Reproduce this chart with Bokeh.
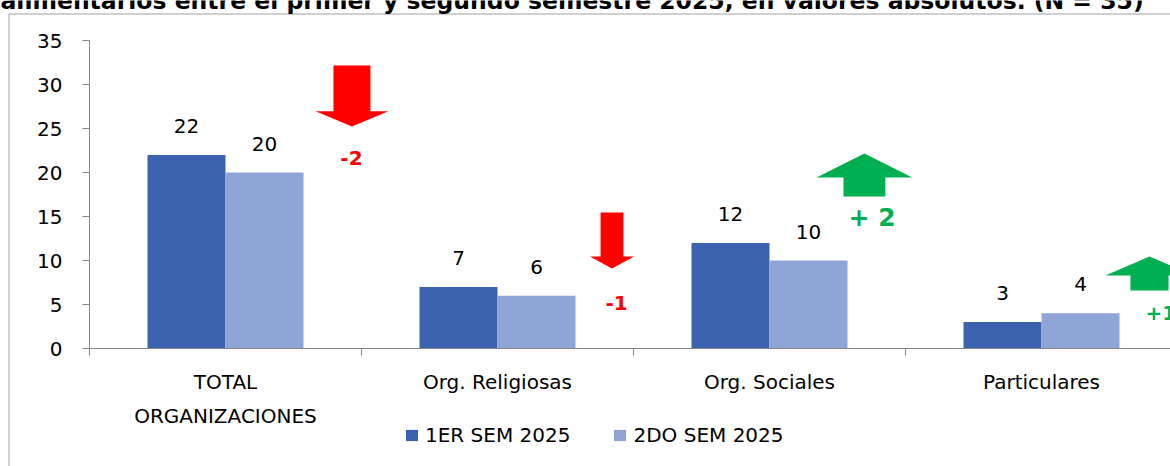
from bokeh.plotting import figure
from bokeh.models import FixedTicker, Legend, LegendItem, ColumnDataSource
from bokeh.core.properties import value
from bokeh.transform import dodge
from bokeh.embed import file_html
from bokeh.resources import INLINE

# ---------------- data ----------------
title_text = "alimentarios entre el primer y segundo semestre 2025, en valores absolutos. (N = 35)"
categories = ["TOTAL\nORGANIZACIONES", "Org. Religiosas", "Org. Sociales", "Particulares"]
sem1 = [22, 7, 12, 3]
sem2 = [20, 6, 10, 4]
series_names = ["1ER SEM 2025", "2DO SEM 2025"]
change_labels = ["-2", "-1", "+ 2", "+1"]
change_up = [False, False, True, True]
y_ticks = [0, 5, 10, 15, 20, 25, 30, 35]

# ---------------- styles / layout constants ----------------
DARK = "#3B63AD"
LIGHT = "#8FA5D5"
RED = "#FF0000"
GREEN = "#00B050"
AXIS = "#868686"
BORDER = "#A0A0A0"
FONT = "DejaVu Sans"

W, H = 1170, 466
CAT_PX = 272.0      # pixels per category slot
CAT0_PX = 225.0     # pixel x of first category centre
UNIT_PX = 8.8       # pixels per value unit
ZERO_PX = 348.0     # pixel y of value 0


def px_x(px):
    return (px - CAT0_PX) / CAT_PX


def px_y(py):
    return (ZERO_PX - py) / UNIT_PX


idx = list(range(len(categories)))

p = figure(width=W, height=H, output_backend="svg", toolbar_location=None,
           x_range=(px_x(0), px_x(W)), y_range=(px_y(H), px_y(0)), min_border=0)
p.outline_line_color = None
p.xgrid.visible = False
p.ygrid.visible = False

# ---------------- outer box and cut-off title ----------------
p.line(x=[px_x(8.5), px_x(8.5), px_x(W + 5)], y=[px_y(H + 5), px_y(13.5), px_y(13.5)],
       line_color=BORDER, line_width=1)
p.text(x=[px_x(0)], y=[px_y(0)], text=[title_text], text_font=value(FONT),
       text_font_style="bold", text_font_size="23.5px", text_baseline="alphabetic",
       text_align="left", text_color="black")

# ---------------- bars ----------------
src = ColumnDataSource(dict(x=idx, s1=sem1, s2=sem2,
                            t1=[str(v) for v in sem1], t2=[str(v) for v in sem2]))

BW = 78.0 / CAT_PX
r1 = p.vbar(x=dodge("x", -BW / 2, range=p.x_range), top="s1", width=BW, bottom=0,
            source=src, fill_color=DARK, line_color=None)
r2 = p.vbar(x=dodge("x", BW / 2, range=p.x_range), top="s2", width=BW, bottom=0,
            source=src, fill_color=LIGHT, line_color=None)

p.text(x=dodge("x", -BW / 2, range=p.x_range), y="s1", text="t1", source=src,
       text_font=value(FONT), text_font_size="20px", text_align="center",
       text_baseline="alphabetic", y_offset=-29, text_color="black")
p.text(x=dodge("x", BW / 2, range=p.x_range), y="s2", text="t2", source=src,
       text_font=value(FONT), text_font_size="20px", text_align="center",
       text_baseline="alphabetic", y_offset=-29, text_color="black")

# ---------------- change arrows (annotation placement) ----------------
# (x offset from category centre, tail y, head-base y, tip y, shaft half-width, head half-width)
arrow_geom = [
    (0.465, 32.16, 26.95, 25.23, 0.068, 0.134),
    (0.421, 15.45, 10.45, 9.09, 0.042, 0.081),
    (0.349, 17.27, 19.43, 22.16, 0.077, 0.176),
    (0.397, 6.59, 8.30, 10.45, 0.070, 0.162),
]
xs, ys, cols = [], [], []
for i, (dx, yt, yb, ytip, sw, hw) in enumerate(arrow_geom):
    xc = idx[i] + dx
    xs.append([xc - sw, xc + sw, xc + sw, xc + hw, xc, xc - hw, xc - sw])
    ys.append([yt, yt, yb, yb, ytip, yb, yb])
    cols.append(GREEN if change_up[i] else RED)
p.patches(xs=xs, ys=ys, fill_color=cols, line_color=None)

# change labels: (x offset, y, size, align)
lab_geom = [(0.463, 21.6, "20px", "center"), (0.4375, 5.2, "20px", "center"),
            (0.377, 14.85, "25px", "center"), (0.382, 4.05, "20px", "left")]
for i, (dx, y, fs, al) in enumerate(lab_geom):
    p.text(x=[idx[i] + dx], y=[y], text=[change_labels[i]],
           text_font=value(FONT), text_font_style="bold", text_font_size=fs,
           text_align=al, text_baseline="middle",
           text_color=GREEN if change_up[i] else RED)

# ---------------- axes (fixed inside the frame) ----------------
yax = p.yaxis[0]
yax.fixed_location = -0.5
yax.bounds = (0, 35)
yax.ticker = FixedTicker(ticks=y_ticks)
yax.axis_line_color = AXIS
yax.major_tick_line_color = AXIS
yax.major_tick_out = 7
yax.major_tick_in = 0
yax.minor_tick_line_color = None
yax.major_label_text_font = FONT
yax.major_label_text_font_size = "20px"
yax.major_label_text_color = "black"
yax.major_label_standoff = 20

xax = p.xaxis[0]
xax.fixed_location = 0
xax.bounds = (-0.5, px_x(W + 5))
xax.ticker = FixedTicker(ticks=idx, minor_ticks=[i - 0.5 for i in idx] + [idx[-1] + 0.5])
xax.major_label_overrides = {i: c for i, c in zip(idx, categories)}
xax.axis_line_color = AXIS
xax.major_tick_line_color = None
xax.minor_tick_line_color = AXIS
xax.minor_tick_out = 7
xax.minor_tick_in = 0
xax.major_label_text_font = FONT
xax.major_label_text_font_size = "20px"
xax.major_label_text_color = "black"
xax.major_label_text_line_height = 1.45
xax.major_label_standoff = 14

# ---------------- legend ----------------
legend = Legend(items=[LegendItem(label=series_names[0], renderers=[r1]),
                       LegendItem(label=series_names[1], renderers=[r2])],
                orientation="horizontal", location=(404, 19),
                glyph_width=15, glyph_height=14, label_standoff=6, spacing=42,
                padding=0, margin=0, border_line_color=None,
                background_fill_alpha=0,
                label_text_font=FONT, label_text_font_size="20px",
                label_text_color="black")
p.add_layout(legend, "center")

open("out.html", "w").write(file_html(p, INLINE))
